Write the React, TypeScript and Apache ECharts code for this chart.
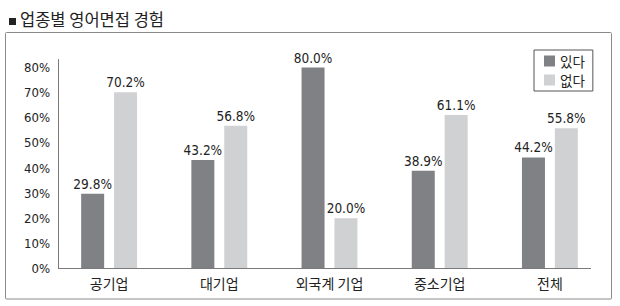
import React, { useEffect, useRef } from "react";
import * as echarts from "echarts";

const title = "업종별 영어면접 경험";
const categories = ["공기업", "대기업", "외국계 기업", "중소기업", "전체"];
const seriesNames = ["있다", "없다"];
const yesValues = [29.8, 43.2, 80.0, 38.9, 44.2];
const noValues = [70.2, 56.8, 20.0, 61.1, 55.8];
const yTicks = [0, 10, 20, 30, 40, 50, 60, 70, 80];

const NARROW = '"Liberation Sans Narrow", "DejaVu Sans Condensed", "Liberation Sans", sans-serif';
const KR = '"Noto Sans CJK KR", sans-serif';

export default function App() {
  const ref = useRef<HTMLDivElement>(null);
  useEffect(() => {
    if (!ref.current) return;
    const chart = echarts.init(ref.current, null, { renderer: "svg" });
    const labelCfg = {
      show: true,
      position: "top",
      distance: 3,
      fontFamily: NARROW,
      fontSize: 13.5,
      color: "#222",
      formatter: (p: any) => Number(p.value).toFixed(1) + "%",
    };
    chart.setOption({
      animation: false,
      backgroundColor: "#fff",
      graphic: [
        {
          type: "rect",
          shape: { x: 5.5, y: 32.5, width: 606, height: 266.5, r: 1 },
          style: { fill: "none", stroke: "#8a8a8a", lineWidth: 1 },
          z: 0,
        },
        {
          type: "rect",
          shape: { x: 9, y: 18, width: 7, height: 7 },
          style: { fill: "#222" },
        },
        {
          type: "text",
          x: 20,
          y: 19,
          style: {
            text: title,
            fontFamily: KR,
            fontSize: 16.5,
            fill: "#222",
            verticalAlign: "middle",
          },
        },
        {
          type: "line",
          shape: { x1: 58, y1: 268.5, x2: 591, y2: 268.5 },
          style: { stroke: "#7a7a7a", lineWidth: 1 },
          z: 10,
        },
      ],
      legend: {
        data: seriesNames,
        orient: "vertical",
        left: 534,
        top: 50,
        itemWidth: 11,
        itemHeight: 11,
        itemGap: 5,
        icon: "rect",
        padding: [4, 8, 4, 10],
        borderColor: "#555",
        borderWidth: 1,
        textStyle: { fontFamily: KR, fontSize: 13.5, color: "#222", lineHeight: 14 },
      },
      grid: { left: 54, right: 15, top: 59.5, bottom: 37.5, containLabel: false },
      xAxis: {
        type: "category",
        data: categories,
        boundaryGap: true,
        axisLine: { show: false },
        axisTick: { show: false },
        axisLabel: { fontFamily: KR, fontSize: 14, color: "#222", margin: 7 },
      },
      yAxis: {
        type: "value",
        min: 0,
        max: 83.2,
        interval: 10,
        offset: -4,
        splitLine: { show: false },
        axisTick: { show: false },
        axisLine: { show: true, lineStyle: { color: "#7a7a7a", width: 1 } },
        axisLabel: {
          fontFamily: NARROW,
          fontSize: 13,
          color: "#222",
          margin: 8,
          showMaxLabel: false,
          formatter: (v: number) => (yTicks.indexOf(v) >= 0 ? v + "%" : ""),
        },
      },
      series: [
        {
          name: seriesNames[0],
          type: "bar",
          data: yesValues,
          barWidth: 23,
          barGap: "43%",
          itemStyle: { color: "#808185" },
          label: labelCfg,
        },
        {
          name: seriesNames[1],
          type: "bar",
          data: noValues,
          barWidth: 23,
          itemStyle: { color: "#d0d1d3" },
          label: labelCfg,
        },
      ],
    });
    return () => chart.dispose();
  }, []);
  return (
    <div
      ref={ref}
      style={{ position: "absolute", left: 0, top: 0, width: 620, height: 306 }}
    />
  );
}
